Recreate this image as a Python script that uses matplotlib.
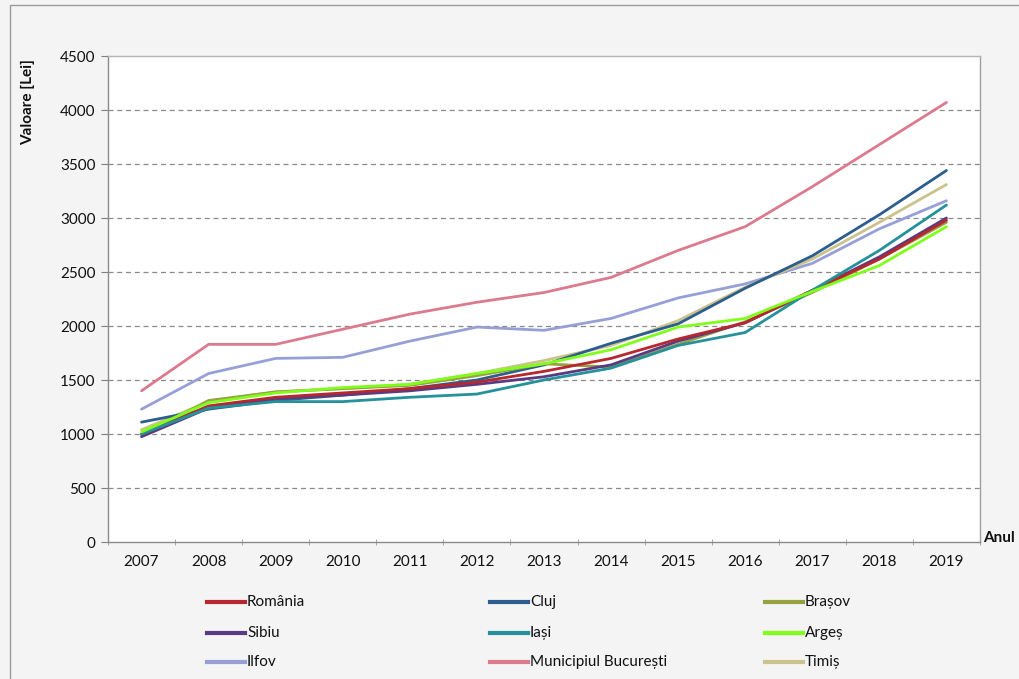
import matplotlib
matplotlib.use("Agg")
import matplotlib.pyplot as plt
from matplotlib.lines import Line2D
from matplotlib.patches import Rectangle
from matplotlib.ticker import MultipleLocator

plt.rcParams['font.family'] = ['Lato', 'DejaVu Sans']

years = [2007, 2008, 2009, 2010, 2011, 2012, 2013, 2014, 2015, 2016, 2017, 2018, 2019]

romania   = [1000, 1260, 1340, 1380, 1420, 1480, 1580, 1700, 1880, 2030, 2330, 2620, 2980]
cluj      = [1110, 1230, 1310, 1360, 1420, 1500, 1640, 1840, 2020, 2350, 2650, 3030, 3440]
brasov    = [990, 1310, 1390, 1420, 1450, 1540, 1650, 1620, 1830, 2040, 2310, 2620, 2960]
sibiu     = [975, 1240, 1330, 1360, 1400, 1460, 1530, 1640, 1860, 2030, 2330, 2640, 3000]
iasi      = [1000, 1240, 1300, 1300, 1340, 1370, 1500, 1610, 1820, 1940, 2330, 2700, 3120]
arges     = [1020, 1290, 1380, 1430, 1460, 1560, 1650, 1780, 1990, 2070, 2320, 2560, 2920]
ilfov     = [1230, 1560, 1700, 1710, 1860, 1990, 1960, 2070, 2260, 2390, 2580, 2900, 3160]
bucuresti = [1400, 1830, 1830, 1970, 2110, 2220, 2310, 2450, 2700, 2920, 3290, 3680, 4070]
timis     = [1040, 1300, 1390, 1420, 1460, 1560, 1680, 1820, 2050, 2360, 2620, 2960, 3310]

names = ["România", "Cluj", "Brașov", "Sibiu", "Iași", "Argeș",
         "Ilfov", "Municipiul București", "Timiș"]
series = [romania, cluj, brasov, sibiu, iasi, arges, ilfov, bucuresti, timis]
colors = ["#B8262E", "#2C5D8F", "#98A042", "#5A3A80", "#25919A", "#80FF1A",
          "#96A0D6", "#DC7A8E", "#CBC28C"]

# drawing order: back to front
draw_order = [7, 6, 8, 1, 2, 3, 0, 4, 5]

W, H = 1019, 679
fig = plt.figure(figsize=(W / 100, H / 100), dpi=100)
fig.patch.set_facecolor("#F4F4F4")

# outer chart frame
fig.add_artist(Rectangle((10 / W, -2 / H), (W + 20) / W, 1 - 3 / H,
                         transform=fig.transFigure, fill=False,
                         edgecolor="#9a9a9a", linewidth=1.0))

left, right, top, bottom = 108, 980, 56, 542
ax = fig.add_axes([left / W, 1 - bottom / H, (right - left) / W, (bottom - top) / H])
ax.set_facecolor("white")

x = list(range(len(years)))
for i in draw_order:
    ax.plot(x, series[i], color=colors[i], linewidth=2.0, solid_capstyle="round",
            solid_joinstyle="round", zorder=3)

ax.set_xlim(-0.5, len(years) - 0.5)
ax.set_ylim(0, 4500)
ax.set_yticks(range(0, 4501, 500))
ax.set_xticks(x)
ax.set_xticklabels([str(y) for y in years])
ax.xaxis.set_minor_locator(MultipleLocator(1, offset=0.5))

for s in ("left", "bottom", "top", "right"):
    ax.spines[s].set_color("#8a8a8a")
    ax.spines[s].set_linewidth(1.0)
ax.spines["top"].set_color("#b5b5b5")
ax.spines["right"].set_color("#a0a0a0")

ax.tick_params(axis="y", direction="out", length=5, color="#808080",
               labelsize=11, pad=4, labelcolor="#111111")
ax.tick_params(axis="x", which="major", direction="out", length=0, labelsize=11, pad=9,
               labelcolor="#111111")
ax.tick_params(axis="x", which="minor", direction="inout", length=5, color="#9a9a9a")

for v in range(500, 4001, 500):
    ax.axhline(v, color="#8a8a8a", linewidth=0.9, linestyle=(0, (4, 3)), zorder=1)

fig.text(28 / W, 1 - 102 / H, "Valoare [Lei]", rotation=90, ha="center", va="center",
         fontsize=11, fontweight="bold", color="#111111")
fig.text(983 / W, 1 - 538 / H, "Anul", ha="left", va="center",
         fontsize=11, fontweight="bold", color="#111111")

# legend, three columns below the axes
col_x = [207, 490, 765]
row_y = [602, 633, 662]
for k, (name, col) in enumerate(zip(names, colors)):
    r, c = divmod(k, 3)
    x0 = col_x[c]
    y0 = 1 - row_y[r] / H
    fig.add_artist(Line2D([x0 / W, (x0 + 38) / W], [y0, y0], transform=fig.transFigure,
                          color=col, linewidth=3.0))
    fig.text((x0 + 40) / W, y0, name, ha="left", va="center", fontsize=11,
             color="#111111")

fig.savefig("out.png", dpi=100, facecolor=fig.get_facecolor())
